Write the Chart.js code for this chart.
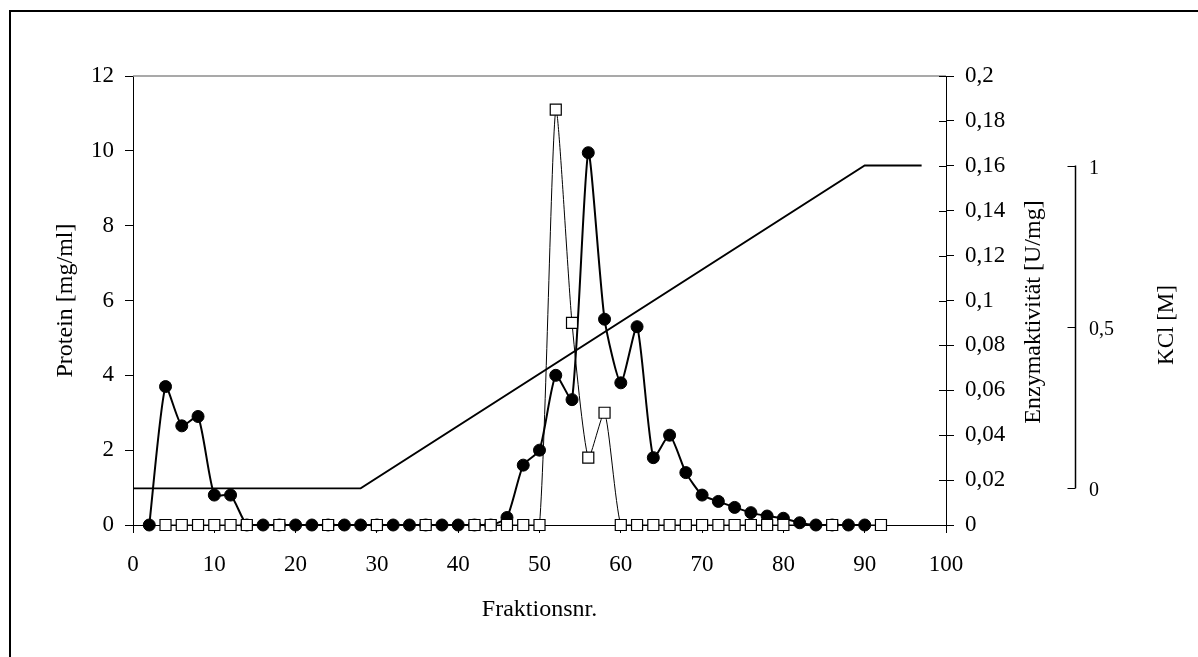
<!DOCTYPE html>
<html>
<head>
<meta charset="utf-8">
<script src="https://cdn.jsdelivr.net/npm/chart.js@4/dist/chart.umd.min.js"></script>
<style>
html,body{margin:0;padding:0;background:#fff;overflow:hidden;}
canvas{display:block;}
</style>
</head>
<body>
<canvas id="c" width="1198" height="657"></canvas>
<script>
// ---- data ----
const proteinX = [2,4,6,8,10,12,14,16,18,20,22,24,26,28,30,32,34,36,38,40,42,44,46,48,50,52,54,56,58,60,62,64,66,68,70,72,74,76,78,80,82,84,86,88,90];
const proteinValues = [0,3.7,2.65,2.9,0.8,0.8,0,0,0,0,0,0,0,0,0,0,0,0,0,0,0,0,0.2,1.6,2.0,4.0,3.35,9.95,5.5,3.8,5.3,1.8,2.4,1.4,0.8,0.63,0.47,0.33,0.24,0.18,0.06,0,0,0,0];
const enzymeX = [4,6,8,10,12,14,18,24,30,36,42,44,46,48,50,52,54,56,58,60,62,64,66,68,70,72,74,76,78,80,86,92];
const enzymeValues = [0,0,0,0,0,0,0,0,0,0,0,0,0,0,0,0.185,0.09,0.03,0.05,0,0,0,0,0,0,0,0,0,0,0,0,0];
const kclX = [0,28,90,97];
const kclValues = [0,0,1,1];

const xTickValues = [0,10,20,30,40,50,60,70,80,90,100];
const xTickLabels = ['0','10','20','30','40','50','60','70','80','90','100'];
const proteinTickValues = [0,2,4,6,8,10,12];
const proteinTickLabels = ['0','2','4','6','8','10','12'];
const enzymeTickValues = [0,0.02,0.04,0.06,0.08,0.1,0.12,0.14,0.16,0.18,0.2];
const enzymeTickLabels = ['0','0,02','0,04','0,06','0,08','0,1','0,12','0,14','0,16','0,18','0,2'];
const kclTickValues = [0,0.5,1];
const kclTickLabels = ['0','0,5','1'];

const xTitle = 'Fraktionsnr.';
const proteinTitle = 'Protein [mg/ml]';
const enzymeTitle = 'Enzymaktivität [U/mg]';
const kclTitle = 'KCl [M]';

// ---- helpers ----
const FAMILY = "'Liberation Serif', 'Times New Roman', serif";
const toXY = (xs, ys) => xs.map((x, i) => ({x: x, y: ys[i]}));
const setTicks = (vals) => (scale) => { scale.ticks = vals.map(v => ({value: v})); };

const extras = {
  id: 'extras',
  afterDraw(chart) {
    const ctx = chart.ctx;
    const a = chart.chartArea;
    ctx.save();
    // outer frame
    ctx.strokeStyle = '#000';
    ctx.lineWidth = 2;
    ctx.beginPath();
    ctx.moveTo(10, 657); ctx.lineTo(10, 11); ctx.lineTo(1198, 11);
    ctx.stroke();
    // grey top border of plot area
    ctx.strokeStyle = '#8c8c8c';
    ctx.lineWidth = 1.5;
    ctx.beginPath();
    ctx.moveTo(a.left, a.top); ctx.lineTo(a.right, a.top);
    ctx.stroke();
    // inner halves of the right axis cross ticks
    const y2 = chart.scales.y2;
    ctx.strokeStyle = '#000';
    ctx.lineWidth = 1;
    y2.ticks.forEach(t => {
      const py = Math.round(y2.getPixelForValue(t.value)) + 0.5;
      ctx.beginPath(); ctx.moveTo(a.right - 7, py); ctx.lineTo(a.right, py); ctx.stroke();
    });
    // Enzymaktivität title (reads bottom to top)
    ctx.fillStyle = '#000';
    ctx.font = '24px ' + FAMILY;
    ctx.textAlign = 'center';
    ctx.textBaseline = 'middle';
    ctx.save();
    ctx.translate(1034, 312);
    ctx.rotate(-Math.PI / 2);
    ctx.fillText(enzymeTitle, 0, 0);
    ctx.restore();
    // KCl axis
    const k = chart.scales.yK;
    const kx = 1075.5;
    ctx.lineWidth = 1.5;
    ctx.beginPath();
    ctx.moveTo(kx, k.getPixelForValue(0)); ctx.lineTo(kx, k.getPixelForValue(1));
    ctx.stroke();
    ctx.font = '20px ' + FAMILY;
    ctx.textAlign = 'left';
    kclTickValues.forEach((v, i) => {
      const py = Math.round(k.getPixelForValue(v)) + 0.5;
      ctx.lineWidth = 1;
      ctx.beginPath(); ctx.moveTo(kx - 8, py); ctx.lineTo(kx, py); ctx.stroke();
      ctx.fillText(kclTickLabels[i], 1089, py + 2);
    });
    // KCl title
    ctx.font = '23px ' + FAMILY;
    ctx.textAlign = 'center';
    ctx.save();
    ctx.translate(1167, 325);
    ctx.rotate(-Math.PI / 2);
    ctx.fillText(kclTitle, 0, 0);
    ctx.restore();
    ctx.restore();
  }
};

const tickFont = {family: FAMILY, size: 23};
const titleFont = {family: FAMILY, size: 24};

new Chart(document.getElementById('c'), {
  type: 'line',
  data: {
    datasets: [
      {
        label: 'Enzymaktivität',
        data: toXY(enzymeX, enzymeValues),
        yAxisID: 'y2',
        order: 0,
        borderColor: '#000',
        borderWidth: 1,
        tension: 0.2,
        pointStyle: 'rect',
        pointRadius: 7.8,
        pointBackgroundColor: '#fff',
        pointBorderColor: '#000',
        pointBorderWidth: 1.2,
        clip: false
      },
      {
        label: 'Protein',
        data: toXY(proteinX, proteinValues),
        yAxisID: 'y',
        order: 1,
        borderColor: '#000',
        borderWidth: 2,
        tension: 0.2,
        pointStyle: 'circle',
        pointRadius: 6,
        pointBackgroundColor: '#000',
        pointBorderColor: '#000',
        pointBorderWidth: 1,
        clip: false
      },
      {
        label: 'KCl',
        data: toXY(kclX, kclValues),
        yAxisID: 'yK',
        order: 2,
        borderColor: '#000',
        borderWidth: 1.8,
        tension: 0,
        pointRadius: 0,
        clip: false
      }
    ]
  },
  options: {
    responsive: false,
    animation: false,
    devicePixelRatio: 1,
    layout: {padding: {left: 0, right: 138, top: 76, bottom: 0}},
    plugins: {legend: {display: false}, tooltip: {enabled: false}},
    scales: {
      x: {
        type: 'linear', position: 'bottom', min: 0, max: 100,
        afterBuildTicks: setTicks(xTickValues),
        afterFit: (s) => { s.height = 132; s.paddingLeft = 0; s.paddingRight = 0; },
        grid: {drawOnChartArea: false, drawTicks: true, tickLength: 8, color: '#000', lineWidth: 1},
        border: {display: true, color: '#000', width: 1},
        ticks: {font: tickFont, color: '#000', padding: 18, maxRotation: 0,
                callback: (v, i) => xTickLabels[i]},
        title: {display: true, text: xTitle, font: titleFont, color: '#000', padding: {top: 0, bottom: 33}}
      },
      y: {
        type: 'linear', position: 'left', min: 0, max: 12,
        afterBuildTicks: setTicks(proteinTickValues),
        afterFit: (s) => { s.width = 133; s.paddingTop = 0; s.paddingBottom = 0; },
        grid: {drawOnChartArea: false, drawTicks: true, tickLength: 8, color: '#000', lineWidth: 1},
        border: {display: true, color: '#000', width: 1},
        ticks: {font: tickFont, color: '#000', padding: 11,
                callback: (v, i) => proteinTickLabels[i]},
        title: {display: true, text: proteinTitle, font: titleFont, color: '#000', padding: {top: 51, bottom: 0}}
      },
      y2: {
        type: 'linear', position: 'right', min: 0, max: 0.2,
        afterBuildTicks: setTicks(enzymeTickValues),
        afterFit: (s) => { s.width = 114; s.paddingTop = 0; s.paddingBottom = 0; },
        grid: {drawOnChartArea: false, drawTicks: true, tickLength: 8, color: '#000', lineWidth: 1},
        border: {display: true, color: '#000', width: 1},
        ticks: {font: tickFont, color: '#000', padding: 11,
                callback: (v, i) => enzymeTickLabels[i]}
      },
      yK: {
        type: 'linear', position: 'right', display: false,
        min: -0.1137, max: 1.2773
      }
    }
  },
  plugins: [extras]
});
</script>
</body>
</html>
